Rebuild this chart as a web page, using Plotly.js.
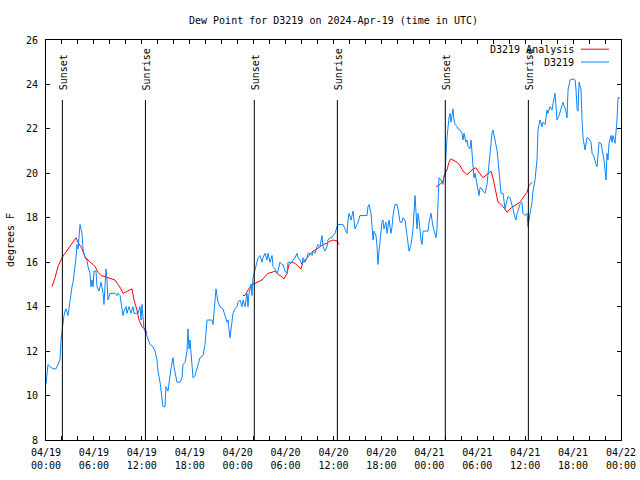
<!DOCTYPE html>
<html>
<head>
<meta charset="utf-8">
<script src="https://cdn.plot.ly/plotly-3.0.1.min.js"></script>
<style>html,body{margin:0;padding:0;background:#fff;}#chart{width:640px;height:480px;}</style>
</head>
<body>
<div id="chart"></div>
<script>
// Observation series (hours after 2024-04-19 00:00 UTC, dew point in F)
const blueHours = [
0,0.13,0.25,0.50,0.88,1.25,1.50,1.75,1.88,2.00,2.13,2.25,2.38,2.50,2.75,2.88,3.01,3.13,3.26,3.38,
3.51,3.63,3.76,3.88,4.01,4.13,4.26,4.38,4.51,4.63,4.76,4.88,5.13,5.26,5.51,5.63,5.76,5.89,6.01,6.26,
6.39,6.64,6.89,7.14,7.26,7.51,7.64,7.76,8.01,8.64,8.89,9.02,9.27,9.52,9.64,9.77,10.02,10.14,10.39,10.64,
10.89,11.02,11.52,11.77,11.90,12.02,12.27,12.52,12.77,13.02,13.40,13.65,13.90,14.02,14.28,14.53,14.65,14.90,15.03,15.28,
15.40,15.65,15.90,16.03,16.40,16.78,17.03,17.16,17.41,17.66,17.78,17.91,18.03,18.28,18.41,18.66,18.91,19.03,19.28,19.66,
19.91,20.16,20.79,20.91,21.16,21.29,21.41,21.54,21.79,22.16,22.66,22.79,23.04,23.29,23.42,23.67,23.92,24.04,24.29,24.54,
24.67,24.92,25.17,25.29,25.42,25.67,25.79,25.92,26.17,26.42,26.55,26.80,27.05,27.17,27.42,27.67,27.80,28.05,28.30,28.43,
28.68,28.93,29.05,29.30,29.55,29.68,29.93,30.18,30.30,30.55,30.81,30.93,31.18,31.43,31.56,31.81,32.06,32.18,32.43,32.68,
32.81,33.06,33.31,33.43,33.68,33.94,34.06,34.31,34.56,34.69,34.94,35.19,35.31,35.56,35.81,35.94,36.19,36.44,36.57,37.19,
37.44,37.69,37.82,37.94,38.19,38.32,38.44,38.57,38.69,38.94,39.07,39.32,39.57,40.20,40.32,40.45,40.70,40.82,40.95,41.07,
41.32,41.45,41.57,41.70,41.82,42.07,42.20,42.32,42.57,42.70,42.95,43.20,43.33,43.45,43.70,43.95,44.08,44.33,44.58,44.70,
44.95,45.08,45.21,45.46,45.71,45.96,46.21,46.33,46.46,46.58,46.71,46.96,47.08,47.21,47.84,47.96,48.21,48.46,48.59,48.71,
48.84,48.96,49.09,49.21,49.46,49.59,49.71,49.84,49.96,50.21,50.34,50.46,50.59,50.71,50.84,50.96,51.09,51.22,51.47,51.59,
51.84,52.09,52.22,52.34,52.59,52.72,52.84,53.09,53.22,53.34,53.47,53.59,53.72,53.97,54.10,54.22,54.35,54.60,54.72,54.97,
55.22,55.35,55.47,55.72,55.85,55.97,56.10,56.22,56.47,56.60,56.72,56.85,56.98,57.23,57.35,57.48,57.73,57.85,58.10,58.35,
58.48,58.73,58.85,58.98,59.10,59.35,59.60,59.73,59.98,60.23,60.36,60.61,60.86,60.98,61.23,61.48,61.61,61.86,62.11,62.24,
62.49,62.74,62.86,63.11,63.36,63.49,63.74,63.86,63.99,64.24,64.49,64.74,64.87,65.12,65.24,65.37,65.62,66.00,66.25,66.37,
66.50,66.62,66.75,67.00,67.13,67.25,67.50,67.63,67.75,68.00,68.25,68.38,68.62,68.87,69.00,69.25,69.50,69.62,69.87,70.12,
70.25,70.37,70.50,70.75,70.87,71.00,71.25,71.50,71.63,71.88
];
const blueValues = [
10.5,11.0,11.4,11.3,11.2,11.2,11.4,11.6,12.5,12.9,13.3,13.6,13.8,13.9,13.6,14.0,14.3,14.6,14.9,15.1,
15.4,15.8,16.2,16.8,16.6,17.2,17.7,17.5,17.3,16.6,16.4,16.2,16.1,15.8,15.5,14.9,15.2,14.9,15.6,15.6,
14.9,14.7,15.1,14.6,14.1,15.7,15.2,14.3,14.6,14.6,14.5,14.6,14.5,13.9,13.6,13.8,14.0,13.7,14.0,13.7,
14.0,13.7,13.7,14.0,13.4,14.1,13.0,12.8,12.5,12.3,12.2,12.0,11.6,11.1,10.6,9.9,9.5,9.5,10.4,10.2,
10.6,11.2,11.7,11.3,10.6,10.6,10.8,11.4,11.5,12.0,13.0,12.1,12.5,11.2,10.8,10.9,11.2,11.4,11.7,11.8,
12.3,13.4,13.4,13.2,14.2,14.8,14.5,14.2,14.0,13.9,13.3,13.4,12.6,13.2,13.7,13.9,14.0,14.2,14.3,14.0,
14.3,14.0,14.6,14.0,14.6,15.0,14.5,15.3,15.7,16.0,16.2,16.3,16.0,16.2,16.4,16.1,16.4,16.0,16.3,15.8,
15.7,15.5,15.6,16.0,15.9,15.9,15.6,15.5,16.0,16.0,16.0,16.1,16.2,16.4,16.2,16.1,15.9,16.2,16.0,16.2,
16.4,16.4,16.3,16.5,16.4,16.7,16.8,16.7,17.2,16.7,16.5,16.7,17.0,17.1,17.1,17.2,17.3,17.6,17.7,17.7,
17.5,17.3,17.9,18.2,17.9,18.1,18.3,17.9,17.5,17.7,17.8,18.1,18.1,18.1,18.5,18.6,18.2,17.7,17.0,17.4,
17.2,16.7,15.9,16.5,16.9,17.8,17.9,17.5,17.8,17.3,17.9,17.3,17.6,18.1,18.6,18.6,18.4,17.8,17.8,18.0,
17.9,17.5,17.0,16.5,16.8,17.5,19.0,18.1,17.5,18.2,17.9,17.0,16.8,17.4,17.4,17.8,18.2,17.6,17.4,17.2,
17.1,17.5,19.2,19.8,19.7,19.6,19.5,19.9,20.0,21.6,22.2,22.5,22.7,22.3,22.6,22.9,22.4,22.2,22.1,22.0,
21.95,21.8,21.5,21.8,21.4,21.5,21.2,21.1,21.5,20.9,20.5,19.8,20.0,19.5,19.2,19.0,19.35,19.3,19.2,19.1,
19.5,20.0,20.7,21.5,21.8,21.95,21.7,21.4,21.05,20.6,20.0,19.4,19.1,19.1,18.8,18.4,18.8,18.95,18.9,18.6,
18.4,18.0,17.9,18.2,18.3,18.6,18.7,18.2,18.1,18.2,17.6,18.2,18.7,19.2,19.7,20.6,21.95,22.4,22.1,22.3,
22.2,22.85,22.7,23.0,22.85,23.15,23.6,23.0,22.4,22.6,22.95,23.2,23.05,22.8,22.5,23.75,24.2,24.25,24.2,23.75,
22.9,22.8,24.1,23.75,22.3,21.6,21.05,21.5,21.6,21.55,21.4,20.9,20.75,20.4,20.3,21.4,21.35,21.1,20.6,19.7,
20.9,20.6,21.35,21.7,21.4,21.7,21.35,22.4,23.4,23.4
];
// Analysis series (null = gap between analysis runs)
const redHours = [
0.75,1.13,1.50,2.00,2.38,2.75,3.26,3.76,4.01,4.51,4.88,5.13,5.51,5.89,6.14,6.51,6.89,7.39,7.76,8.26,
8.64,9.02,9.39,9.64,10.14,10.52,10.77,11.02,11.39,11.65,12.02,12.40,12.65,
18.0,
24.67,24.92,25.29,25.79,26.17,26.55,27.05,27.42,27.80,28.30,28.68,29.05,29.55,29.80,30.18,30.43,30.81,31.18,31.56,31.93,
32.18,32.68,33.06,33.43,33.94,34.31,34.69,35.19,35.56,35.94,36.44,36.69,
42.0,
48.84,49.34,49.71,49.96,50.21,50.46,50.71,50.96,51.47,51.84,52.22,52.72,53.09,53.47,53.84,54.10,54.47,54.72,55.22,55.72,
55.97,56.22,56.47,56.60,56.85,57.23,57.73,58.10,58.48,58.98,59.35,59.73,60.23,60.48,60.86
];
const redValues = [
14.9,15.3,15.8,16.2,16.4,16.6,16.85,17.1,16.9,16.6,16.25,16.15,16.0,15.9,15.8,15.55,15.4,15.35,15.3,15.25,
15.2,15.0,14.8,14.6,14.7,14.75,14.8,14.3,13.85,13.4,13.1,13.0,12.8,
null,
14.5,14.5,14.75,15.0,15.05,15.1,15.2,15.35,15.5,15.55,15.6,15.45,15.35,15.25,15.5,15.9,16.0,15.95,15.8,15.7,
16.0,16.2,16.4,16.5,16.6,16.7,16.8,16.85,16.95,17.0,16.95,16.8,
null,
19.4,19.5,19.65,20.0,20.15,20.5,20.65,20.6,20.5,20.35,20.1,19.95,20.05,20.2,20.25,20.1,19.9,19.8,19.95,20.1,
19.8,19.35,19.0,18.7,18.65,18.5,18.25,18.4,18.5,18.6,18.7,18.9,19.15,19.45,19.6
];
const sunTimes = ['2024-04-19 02:03','2024-04-19 12:27','2024-04-20 02:05','2024-04-20 12:29','2024-04-21 02:00','2024-04-21 12:24'];
const sunLabels = ['Sunset','Sunrise','Sunset','Sunrise','Sunset','Sunrise'];
const legendNames = ['D3219 Analysis','D3219'];

const BLUE = '#0a84ff', RED = '#ff0000';
const FONT = 'DejaVu Sans Mono, monospace';
const base = Date.UTC(2024, 3, 19);
function pad(n){return (n<10?'0':'')+n;}
function toDate(h){
  const d = new Date(base + Math.round(h*3600)*1000);
  return d.getUTCFullYear()+'-'+pad(d.getUTCMonth()+1)+'-'+pad(d.getUTCDate())+' '+pad(d.getUTCHours())+':'+pad(d.getUTCMinutes())+':'+pad(d.getUTCSeconds());
}

const traces = [
  {x: redHours.map(toDate), y: redValues, type:'scatter', mode:'lines', name: legendNames[0],
   line:{color:RED, width:1}, connectgaps:false, showlegend:false},
  {x: blueHours.map(toDate), y: blueValues, type:'scatter', mode:'lines', name: legendNames[1],
   line:{color:BLUE, width:1}, showlegend:false}
];

const shapes = sunTimes.map(t => ({type:'line', xref:'x', yref:'paper', x0:t, x1:t, y0:0, y1:0.85,
  line:{color:'#000', width:1}}));
const annotations = sunTimes.map((t,i) => ({xref:'x', yref:'paper', x:t, y:0.87, text:sunLabels[i],
  textangle:-90, showarrow:false, xanchor:'center', yanchor:'bottom', xshift:1,
  font:{family:FONT, size:10, color:'#000'}}));

// legend drawn to match reference (text then line sample on the right)
const legY = [0.977, 0.945];
const legCol = [RED, BLUE];
legendNames.forEach((n,i) => {
  annotations.push({xref:'paper', yref:'paper', x:0.921, y:legY[i], text:n, showarrow:false,
    xanchor:'right', yanchor:'middle', font:{family:FONT, size:10, color:'#000'}});
  shapes.push({type:'line', xref:'paper', yref:'paper', x0:0.9304, x1:0.9791, y0:legY[i], y1:legY[i],
    line:{color:legCol[i], width:1}});
});

const layout = {
  width:640, height:480,
  margin:{l:46, r:19, t:40, b:40, pad:0},
  paper_bgcolor:'#fff', plot_bgcolor:'#fff',
  font:{family:FONT, size:10, color:'#000'},
  title:{text:'Dew Point for D3219 on 2024-Apr-19 (time in UTC)', x:0.5, xref:'paper',
    y:0.958, yref:'container', yanchor:'middle', font:{family:FONT, size:10, color:'#000'}},
  xaxis:{type:'date', range:['2024-04-19 00:00','2024-04-22 00:00'], tickmode:'linear',
    tick0:'2024-04-19 00:00', dtick:6*3600000, tickformat:'%m/%d<br>%H:%M',
    ticks:'inside', ticklen:4, tickcolor:'#000', showline:true, linecolor:'#000', linewidth:1,
    mirror:'allticks', showgrid:false, zeroline:false, ticklabelstandoff:3,
    minor:{dtick:2*3600000, ticks:'inside', ticklen:4, tickcolor:'#000', showgrid:false},
    tickfont:{family:FONT, size:10, color:'#000'}},
  yaxis:{range:[8,26], tickmode:'linear', tick0:8, dtick:2, ticks:'inside', ticklen:4, tickcolor:'#000',
    showline:true, linecolor:'#000', linewidth:1, mirror:'allticks', showgrid:false, zeroline:false,
    ticklabelstandoff:5,
    title:{text:'degrees F', font:{family:FONT, size:10, color:'#000'}, standoff:9},
    tickfont:{family:FONT, size:10, color:'#000'}},
  shapes: shapes,
  annotations: annotations,
  showlegend:false
};
Plotly.newPlot('chart', traces, layout, {staticPlot:true, displayModeBar:false});
</script>
</body>
</html>
